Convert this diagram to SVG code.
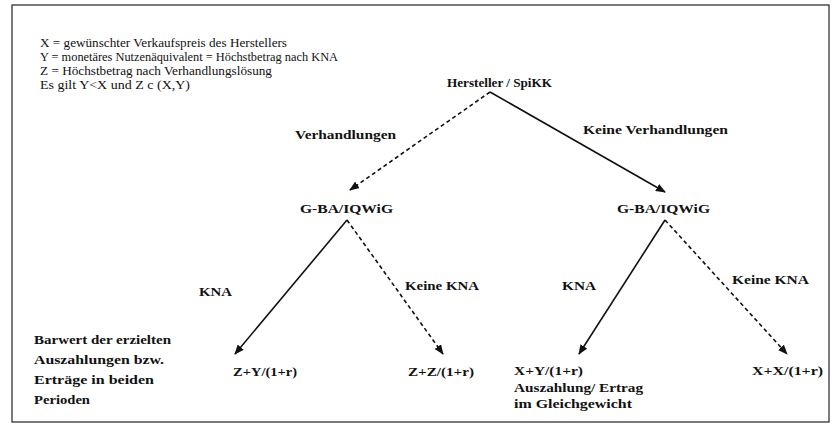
<svg xmlns="http://www.w3.org/2000/svg" width="836" height="430" viewBox="0 0 836 430">
<style>
text{font-family:"Liberation Serif","Times New Roman",serif;fill:#111;}
.lg{font-size:12px;}
.t{font-size:13.5px;font-weight:bold;}
.s{stroke:#111;stroke-width:1.6;fill:none;}
.d{stroke:#111;stroke-width:1.6;fill:none;stroke-dasharray:4 3;}
</style>
<defs>
<marker id="ah" markerWidth="10" markerHeight="8" refX="9" refY="4" orient="auto" markerUnits="userSpaceOnUse">
<path d="M0,0 L10,4 L0,8 Z" fill="#111"/>
</marker>
</defs>
<rect x="12" y="5" width="817" height="417" fill="#fff" stroke="#222" stroke-width="1.2"/>
<g id="legend">
<text class="lg" x="40" y="47" textLength="247" lengthAdjust="spacingAndGlyphs">X = gewünschter Verkaufspreis des Herstellers</text>
<text class="lg" x="40" y="61" textLength="298" lengthAdjust="spacingAndGlyphs">Y = monetäres Nutzenäquivalent = Höchstbetrag nach KNA</text>
<text class="lg" x="40" y="75" textLength="232" lengthAdjust="spacingAndGlyphs">Z = Höchstbetrag nach Verhandlungslösung</text>
<text class="lg" x="40" y="89" textLength="150" lengthAdjust="spacingAndGlyphs">Es gilt Y&lt;X und Z c (X,Y)</text>
</g>
<g id="n_root"><text class="t" x="447" y="87" textLength="105" lengthAdjust="spacingAndGlyphs">Hersteller / SpiKK</text></g>
<g id="n_gba_left"><text class="t" x="300" y="213" textLength="93" lengthAdjust="spacingAndGlyphs">G-BA/IQWiG</text></g>
<g id="n_gba_right"><text class="t" x="617" y="213" textLength="93" lengthAdjust="spacingAndGlyphs">G-BA/IQWiG</text></g>
<g id="n_zy"><text class="t" x="233" y="376" textLength="64" lengthAdjust="spacingAndGlyphs">Z+Y/(1+r)</text></g>
<g id="n_zz"><text class="t" x="408" y="376" textLength="66" lengthAdjust="spacingAndGlyphs">Z+Z/(1+r)</text></g>
<g id="n_xy">
<text class="t" x="514" y="375" textLength="69" lengthAdjust="spacingAndGlyphs">X+Y/(1+r)</text>
<text class="t" x="514" y="392" textLength="129" lengthAdjust="spacingAndGlyphs">Auszahlung/ Ertrag</text>
<text class="t" x="514" y="408" textLength="118" lengthAdjust="spacingAndGlyphs">im Gleichgewicht</text>
</g>
<g id="n_xx"><text class="t" x="752" y="375" textLength="71" lengthAdjust="spacingAndGlyphs">X+X/(1+r)</text></g>
<g id="rowlabel">
<text class="t" x="34" y="344" textLength="137" lengthAdjust="spacingAndGlyphs">Barwert der erzielten</text>
<text class="t" x="34" y="364" textLength="130" lengthAdjust="spacingAndGlyphs">Auszahlungen bzw.</text>
<text class="t" x="34" y="384" textLength="120" lengthAdjust="spacingAndGlyphs">Erträge in beiden</text>
<text class="t" x="34" y="404" textLength="56" lengthAdjust="spacingAndGlyphs">Perioden</text>
</g>
<g id="connectors">
<line class="d" x1="490" y1="92" x2="350" y2="190" marker-end="url(#ah)"/>
<line class="s" x1="490" y1="92" x2="665" y2="192" marker-end="url(#ah)"/>
<line class="s" x1="347" y1="220" x2="235" y2="354" marker-end="url(#ah)"/>
<line class="d" x1="347" y1="220" x2="443" y2="354" marker-end="url(#ah)"/>
<line class="s" x1="665" y1="220" x2="579" y2="354" marker-end="url(#ah)"/>
<line class="d" x1="665" y1="220" x2="787" y2="354" marker-end="url(#ah)"/>
<text class="t" x="295" y="139" textLength="101" lengthAdjust="spacingAndGlyphs">Verhandlungen</text>
<text class="t" x="583" y="134" textLength="145" lengthAdjust="spacingAndGlyphs">Keine Verhandlungen</text>
<text class="t" x="199" y="296" textLength="33" lengthAdjust="spacingAndGlyphs">KNA</text>
<text class="t" x="405" y="290" textLength="74" lengthAdjust="spacingAndGlyphs">Keine KNA</text>
<text class="t" x="562" y="290" textLength="34" lengthAdjust="spacingAndGlyphs">KNA</text>
<text class="t" x="732" y="284" textLength="77" lengthAdjust="spacingAndGlyphs">Keine KNA</text>
</g>
</svg>
